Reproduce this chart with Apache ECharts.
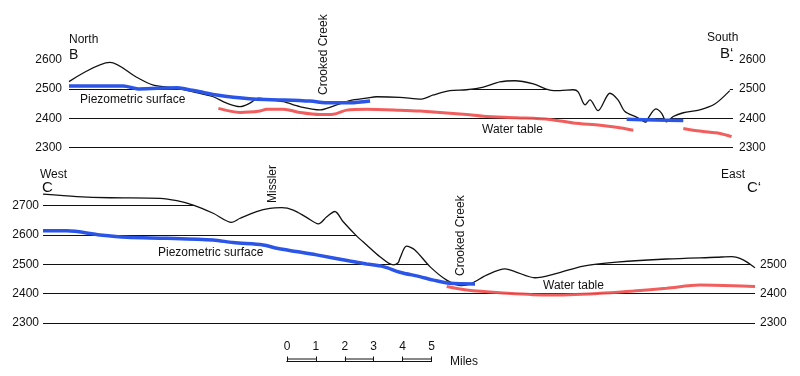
<!DOCTYPE html>
<html>
<head>
<meta charset="utf-8">
<script src="https://cdn.jsdelivr.net/npm/echarts@6/dist/echarts.min.js"></script>
<style>
html, body { margin: 0; background: #fff; }
#chart { width: 800px; height: 376px; }
</style>
</head>
<body>
<div id="chart"></div>
<script>
// distances are miles along the section, elevations in feet

// section B - B'
var groundB = [[0,2526],[1.42,2592],[2.34,2541],[2.92,2514],[3.73,2503],[4.30,2491],[4.99,2474],
  [5.46,2452],[5.92,2440],[6.26,2452],[6.55,2469],[6.84,2466],[7.42,2457],[7.99,2440],[8.69,2429],
  [9.15,2442],[9.72,2461],[10.30,2469],[10.64,2474],[11.45,2472],[12.20,2466],[12.61,2480],
  [13.18,2495],[13.76,2498],[14.34,2507],[14.91,2525],[15.43,2529],[16.07,2518],[16.64,2497],
  [16.99,2495],[17.45,2498],[17.62,2491],[17.86,2446],[18.03,2463],[18.31,2426],[18.72,2486],
  [19.0,2463],[19.24,2423],[19.64,2404],[19.97,2387],[20.04,2400],[20.31,2432],[20.51,2417],
  [20.68,2388],[20.91,2406],[21.26,2419],[21.83,2429],[22.35,2449],[22.87,2495]];
var piezoB1 = [[0,2511],[1.88,2511],[2.40,2501],[3.73,2505],[4.07,2500],[4.53,2491],[5.11,2480],
  [5.69,2472],[6.38,2466],[7.42,2463],[8.34,2459],[9.03,2453],[9.72,2453],[10.42,2459]];
var piezoB2 = [[19.30,2397],[20.3,2394],[21.26,2392]];
var waterB1 = [[5.17,2434],[5.92,2420],[6.61,2425],[6.84,2431],[7.42,2431],[7.99,2420],[8.69,2413],
  [9.15,2414],[9.61,2428],[10.30,2431],[11.45,2428],[12.15,2425],[13.76,2413],[14.34,2407],
  [15.49,2402],[16.64,2396],[17.45,2384],[18.38,2376],[18.95,2369],[19.53,2359]];
var waterB2 = [[21.26,2365],[21.83,2356],[22.53,2348],[22.93,2337]];

// section C - C'
var groundC = [[0,2739],[1.17,2731],[2.32,2727],[4.05,2725],[4.63,2717],[5.20,2702],[5.89,2674],
  [6.53,2643],[6.82,2657],[7.39,2680],[7.85,2691],[8.26,2693],[8.66,2685],[9.12,2660],[9.53,2638],
  [9.82,2662],[10.10,2680],[10.39,2645],[10.85,2597],[11.20,2566],[11.66,2526],[12.12,2498],
  [12.29,2505],[12.35,2520],[12.58,2562],[12.87,2549],[13.39,2492],[13.97,2446],[14.49,2427],
  [14.83,2435],[15.35,2463],[15.99,2484],[16.33,2475],[17.02,2454],[17.78,2469],[18.70,2494],
  [19.85,2507],[21.58,2518],[23.31,2524],[23.83,2526],[24.23,2515],[24.64,2488]];
var piezoC = [[0,2614],[0.82,2614],[1.97,2600],[2.90,2592],[4.28,2589],[5.89,2583],[6.58,2574],
  [7.62,2566],[8.09,2555],[9.47,2532],[10.62,2511],[11.20,2501],[11.78,2492],[12.35,2473],
  [13.04,2458],[13.51,2446],[14.08,2435],[14.95,2433]];
var waterC = [[13.97,2424],[14.66,2412],[15.81,2403],[17.54,2395],[19.27,2401],[20.43,2409],
  [21.58,2418],[22.73,2429],[23.89,2427],[24.64,2424]];

// scale bar
var scaleMiles = [0, 1, 2, 3, 4, 5];

var FONT = '"Liberation Sans", Arial, sans-serif';
var INK = '#111';

// middle rail of the scale bar on every other mile
var scaleRail = [];
for (var i = 0; i < scaleMiles.length - 1; i += 2) {
  scaleRail.push([scaleMiles[i], 0.5], [scaleMiles[i + 1], 0.5], [scaleMiles[i + 1], '-']);
}

function ground(data, idx) {
  return {
    type: 'line', xAxisIndex: idx, yAxisIndex: idx * 2, data: data,
    symbol: 'none', smooth: 0.3, z: 2,
    lineStyle: { color: INK, width: 1.3 },
    // white sky above the profile hides the elevation lines
    areaStyle: { color: '#fff', opacity: 1, origin: 'end' }
  };
}
function piezo(data, idx) {
  return {
    type: 'line', xAxisIndex: idx, yAxisIndex: idx * 2, data: data,
    symbol: 'none', smooth: 0.3, z: 4,
    lineStyle: { color: '#2a55e6', width: 3.5 }
  };
}
function water(data, idx) {
  return {
    type: 'line', xAxisIndex: idx, yAxisIndex: idx * 2, data: data,
    symbol: 'none', smooth: 0.3, z: 3,
    lineStyle: { color: '#f04c4c', width: 3, opacity: 0.9 }
  };
}
function elevAxis(idx, min, max, pos, margin, top) {
  // one colour per tick, the tick at the axis max stays hidden
  var colors = [];
  for (var v = min; v <= top; v += 100) colors.push(INK);
  colors.push('rgba(0,0,0,0)');
  return {
    gridIndex: idx, type: 'value', min: min, max: max, interval: 100, position: pos,
    axisLine: { show: false }, axisTick: { show: false },
    axisLabel: {
      margin: margin, color: INK, fontSize: 12, fontFamily: FONT,
      formatter: function (v) { return v % 100 || v > top ? '' : String(v); }
    },
    splitLine: { show: pos === 'left', lineStyle: { color: colors, width: 1 } }
  };
}
function txt(x, y, s, size, rot) {
  return {
    type: 'text', x: x, y: y, rotation: rot || 0, z: 10,
    style: { text: s, font: (size || 12) + 'px ' + FONT, fill: INK, align: 'left', verticalAlign: 'middle' }
  };
}

var chart = echarts.init(document.getElementById('chart'));
chart.setOption({
  animation: false,
  backgroundColor: '#fff',
  grid: [
    { left: 69, right: 67, top: 45.5, height: 101.9 },
    { left: 43, right: 45, top: 191, height: 131.9 },
    { left: 287, width: 144.5, top: 356.5, height: 5 }
  ],
  xAxis: [
    { gridIndex: 0, type: 'value', min: 0, max: 22.98, show: false },
    { gridIndex: 1, type: 'value', min: 0, max: 24.64, show: false },
    {
      gridIndex: 2, type: 'value', min: 0, max: 5, interval: 1, position: 'top',
      axisLine: { show: true, lineStyle: { color: INK, width: 1 } },
      axisTick: { show: false },
      axisLabel: { margin: 4, color: INK, fontSize: 12, fontFamily: FONT },
      splitLine: { show: true, lineStyle: { color: INK, width: 1 } }
    },
    {
      gridIndex: 2, type: 'value', min: 0, max: 5, position: 'bottom',
      axisLine: { show: true, lineStyle: { color: INK, width: 1 } },
      axisTick: { show: false }, axisLabel: { show: false }, splitLine: { show: false }
    }
  ],
  yAxis: [
    elevAxis(0, 2300, 2650, 'left', 7, 2600),
    elevAxis(0, 2300, 2650, 'right', 6, 2600),
    elevAxis(1, 2300, 2750, 'left', 4, 2700),
    elevAxis(1, 2300, 2750, 'right', 5, 2500),
    { gridIndex: 2, type: 'value', min: 0, max: 1, show: false }
  ],
  series: [
    ground(groundB, 0),
    water(waterB1, 0), water(waterB2, 0),
    piezo(piezoB1, 0), piezo(piezoB2, 0),
    ground(groundC, 1),
    water(waterC, 1),
    piezo(piezoC, 1),
    {
      type: 'line', xAxisIndex: 2, yAxisIndex: 4, data: scaleRail, symbol: 'none',
      lineStyle: { color: INK, width: 1 }
    }
  ],
  graphic: [
    txt(69, 40, 'North'), txt(69, 55.5, 'B', 14),
    txt(707, 38, 'South'), txt(720, 53.5, 'B\u2018', 15),
    txt(80, 100, 'Piezometric surface'),
    txt(324, 95, 'Crooked Creek', 12, Math.PI / 2),
    txt(482, 130, 'Water table'),
    txt(40, 175, 'West'), txt(42, 187.5, 'C', 15),
    txt(721, 175, 'East'), txt(747, 187.5, 'C\u2018', 15),
    txt(273, 203, 'Missler', 12, Math.PI / 2),
    txt(158, 253, 'Piezometric surface'),
    txt(461, 276, 'Crooked Creek', 12, Math.PI / 2),
    txt(543, 286, 'Water table'),
    txt(450, 362, 'Miles')
  ]
});
</script>
</body>
</html>
